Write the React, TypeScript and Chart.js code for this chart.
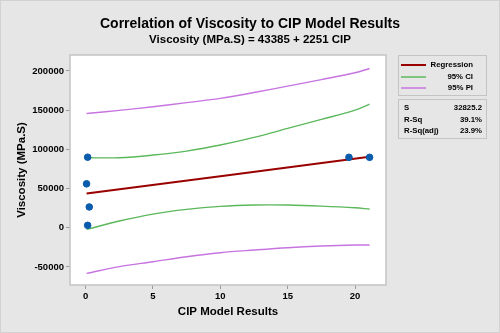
import React, { useEffect, useRef } from "react";
import { Chart, registerables } from "chart.js";

Chart.register(...registerables);

const FONT = "'Liberation Sans', Arial, sans-serif";

const cipX = [0.15, 0.07, 0.27, 0.15, 19.55, 21.08];
const viscosity = [90000, 56000, 26500, 3000, 89800, 89800];

const regX = [0.07, 21.08];
const regY = [43600, 90500];

const bandX = [0.07, 2.5, 5, 7.5, 10, 12.5, 15, 17.5, 20, 21.08];
const ciUpper = [89300, 89300, 92700, 97800, 105500, 115200, 126700, 138200, 150100, 157700];
const ciLower = [-2100, 8500, 17400, 23400, 27200, 28900, 28900, 27600, 25500, 23800];
const piUpper = [145800, 149700, 154300, 159600, 165000, 172500, 180700, 189000, 197700, 203200];
const piLower = [-58300, -49700, -43400, -37000, -31900, -28500, -25500, -23400, -22100, -22100];

const xTicks = [0, 5, 10, 15, 20];
const yTicks = [-50000, 0, 50000, 100000, 150000, 200000];

const legendItems = ["Regression", "95% CI", "95% PI"];
const legendColors = ["#990000", "#5cb85c", "#c774e0"];
const statLabels = ["S", "R-Sq", "R-Sq(adj)"];
const statValues = ["32825.2", "39.1%", "23.9%"];

const titleText = "Correlation of Viscosity to CIP Model Results";
const subtitleText = "Viscosity (MPa.S) = 43385 + 2251 CIP";

const pts = (xs: number[], ys: number[]) => xs.map((x, i) => ({ x, y: ys[i] }));

const decor = {
  id: "decor",
  beforeDraw(chart: any) {
    const { ctx, width, height, chartArea: a } = chart;
    ctx.save();
    ctx.fillStyle = "#e6e6e6";
    ctx.fillRect(0, 0, width, height);
    ctx.strokeStyle = "#d2d2d2";
    ctx.lineWidth = 1;
    ctx.strokeRect(0.5, 0.5, width - 1, height - 1);
    ctx.fillStyle = "#ffffff";
    ctx.fillRect(a.left, a.top, a.right - a.left, a.bottom - a.top);
    ctx.restore();
  },
  afterDraw(chart: any) {
    const { ctx, chartArea: a } = chart;
    ctx.save();
    ctx.strokeStyle = "#c4c4c4";
    ctx.lineWidth = 1.5;
    ctx.strokeRect(a.left, a.top, a.right - a.left, a.bottom - a.top);

    ctx.fillStyle = "#000";
    ctx.textAlign = "center";
    ctx.textBaseline = "middle";
    ctx.font = `bold 14px ${FONT}`;
    ctx.fillText(titleText, 250, 24);
    ctx.font = `bold 11.5px ${FONT}`;
    ctx.fillText(subtitleText, 250, 40);

    ctx.strokeStyle = "#c4c4c4";
    ctx.lineWidth = 1;
    ctx.strokeRect(398.5, 55.5, 88, 40);
    ctx.strokeRect(398.5, 99.5, 88, 39);
    const rows = [65, 77, 88];
    ctx.font = `bold 7.8px ${FONT}`;
    legendItems.forEach((t, i) => {
      ctx.strokeStyle = legendColors[i];
      ctx.lineWidth = i === 0 ? 2 : 1.5;
      ctx.beginPath();
      ctx.moveTo(401, rows[i]);
      ctx.lineTo(426, rows[i]);
      ctx.stroke();
      ctx.fillStyle = "#000";
      ctx.textAlign = "right";
      ctx.fillText(t, 473, rows[i]);
    });
    const srows = [108, 120, 131];
    statLabels.forEach((t, i) => {
      ctx.textAlign = "left";
      ctx.fillText(t, 404, srows[i]);
      ctx.textAlign = "right";
      ctx.fillText(statValues[i], 482, srows[i]);
    });
    ctx.restore();
  },
};

export default function App() {
  const ref = useRef<HTMLCanvasElement>(null);
  useEffect(() => {
    if (!ref.current) return;
    const lineDs = (label: string, xs: number[], ys: number[], color: string, w: number) => ({
      type: "line" as const,
      label,
      data: pts(xs, ys),
      borderColor: color,
      borderWidth: w,
      pointRadius: 0,
      tension: 0.35,
      fill: false,
      order: 1,
    });
    const tickFont = { family: FONT, size: 9.5, weight: "bold" as const };
    const titleFont = { family: FONT, size: 11.5, weight: "bold" as const };
    const chart = new Chart(ref.current, {
      type: "scatter",
      data: {
        datasets: [
          {
            type: "scatter",
            label: "Data",
            data: pts(cipX, viscosity),
            backgroundColor: "#0b5cad",
            borderColor: "#0b5cad",
            pointRadius: 3.3,
            order: 0,
          } as any,
          lineDs("Regression", regX, regY, legendColors[0], 2),
          lineDs("CI upper", bandX, ciUpper, legendColors[1], 1.4),
          lineDs("CI lower", bandX, ciLower, legendColors[1], 1.4),
          lineDs("PI upper", bandX, piUpper, legendColors[2], 1.4),
          lineDs("PI lower", bandX, piLower, legendColors[2], 1.4),
        ],
      },
      options: {
        animation: false,
        responsive: false,
        devicePixelRatio: 1,
        layout: { padding: { top: 55, right: 114, left: 0, bottom: 0 } },
        plugins: { legend: { display: false }, tooltip: { enabled: false }, title: { display: false } },
        scales: {
          x: {
            type: "linear",
            min: -1.16,
            max: 22.3,
            afterFit: (s: any) => { s.height = 48; },
            afterBuildTicks: (s: any) => { s.ticks = xTicks.map((v) => ({ value: v })); },
            ticks: { color: "#000", padding: 2, font: tickFont, callback: (v: any) => String(v) },
            grid: { drawOnChartArea: false, tickLength: 4, color: "#9a9a9a" },
            border: { display: false },
            title: {
              display: true,
              text: "CIP Model Results",
              color: "#000",
              font: titleFont,
              padding: { top: 0, bottom: 14 },
            },
          },
          y: {
            type: "linear",
            min: -73100,
            max: 220400,
            afterFit: (s: any) => { s.width = 70; },
            afterBuildTicks: (s: any) => { s.ticks = yTicks.map((v) => ({ value: v })); },
            ticks: { color: "#000", padding: 2, font: tickFont, callback: (v: any) => String(v) },
            grid: { drawOnChartArea: false, tickLength: 4, color: "#9a9a9a" },
            border: { display: false },
            title: {
              display: true,
              text: "Viscosity (MPa.S)",
              color: "#000",
              font: titleFont,
              padding: { top: 15, bottom: 0 },
            },
          },
        },
      },
      plugins: [decor],
    });
    return () => chart.destroy();
  }, []);
  return (
    <div style={{ position: "fixed", left: 0, top: 0, width: 500, height: 333 }}>
      <canvas ref={ref} width={500} height={333} style={{ width: 500, height: 333, display: "block" }} />
    </div>
  );
}
